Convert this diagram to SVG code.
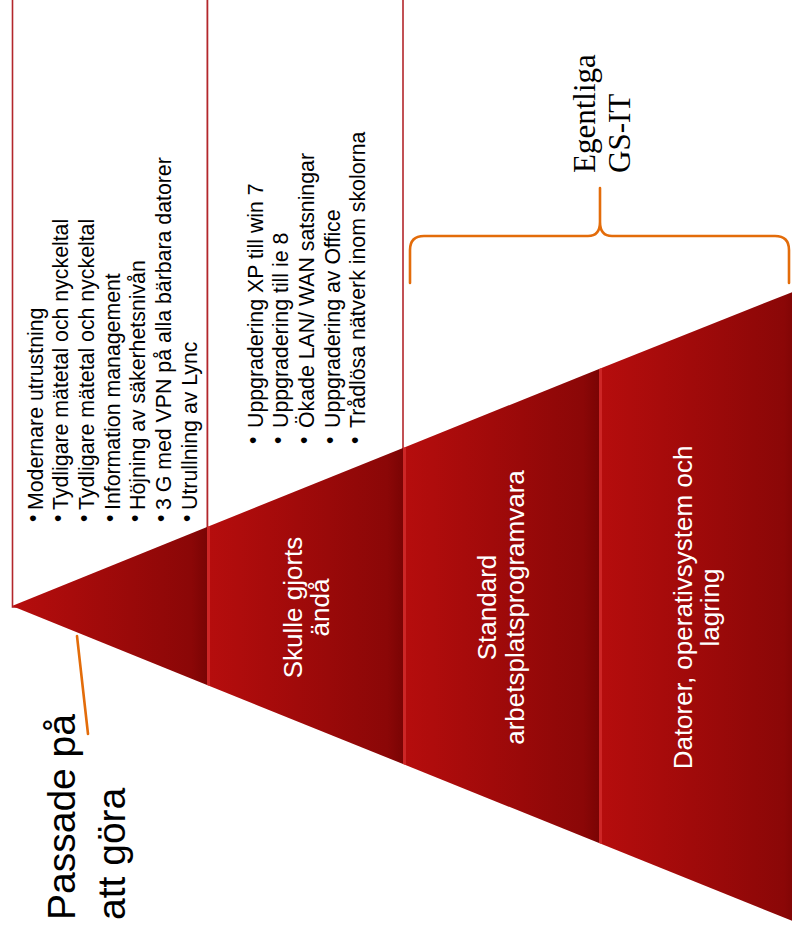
<svg xmlns="http://www.w3.org/2000/svg" width="792" height="932" viewBox="0 0 792 932">
  <defs>
    <linearGradient id="band" x1="0" y1="0" x2="1" y2="0">
      <stop offset="0" stop-color="#b60d0d"/>
      <stop offset="0.92" stop-color="#8b0707"/>
      <stop offset="1" stop-color="#7a0404"/>
    </linearGradient>
    <style>
      .box { fill: #ffffff; stroke: #b3262b; stroke-width: 1.6; }
      .band { fill: url(#band); }
      .edge { fill: #d12c2c; opacity: 0.85; }
      .bullet { font-family: "Liberation Sans", Arial, sans-serif; font-size: 21.3px; fill: #000000; }
      .label { font-family: "Liberation Sans", Arial, sans-serif; font-size: 26px; fill: #ffffff; text-anchor: middle; }
      .title { font-family: "Liberation Sans", Arial, sans-serif; font-size: 39px; fill: #000000; }
      .serif { font-family: "Liberation Serif", "Times New Roman", serif; font-size: 31px; fill: #000000; }
      .orange { fill: none; stroke: #e36c0a; stroke-width: 2.6; stroke-linecap: round; stroke-linejoin: round; }
    </style>
  </defs>

  <rect width="792" height="932" fill="#ffffff"/>

  <!-- outlined text panels above the pyramid -->
  <g id="panel-passed">
    <rect class="box" x="12.5" y="-10" width="195" height="617"/>
    <text class="bullet" transform="translate(39.5 522) rotate(-90)">•</text>
    <text class="bullet" transform="translate(42.5 510) rotate(-90)">Modernare utrustning</text>
    <text class="bullet" transform="translate(65.2 522) rotate(-90)">•</text>
    <text class="bullet" transform="translate(68.2 510) rotate(-90)">Tydligare mätetal och nyckeltal</text>
    <text class="bullet" transform="translate(90.8 522) rotate(-90)">•</text>
    <text class="bullet" transform="translate(93.8 510) rotate(-90)">Tydligare mätetal och nyckeltal</text>
    <text class="bullet" transform="translate(116.5 522) rotate(-90)">•</text>
    <text class="bullet" transform="translate(119.5 510) rotate(-90)">Information management</text>
    <text class="bullet" transform="translate(142.2 522) rotate(-90)">•</text>
    <text class="bullet" transform="translate(145.2 510) rotate(-90)">Höjning av säkerhetsnivån</text>
    <text class="bullet" transform="translate(167.8 522) rotate(-90)">•</text>
    <text class="bullet" transform="translate(170.8 510) rotate(-90)">3 G med VPN på alla bärbara datorer</text>
    <text class="bullet" transform="translate(193.5 522) rotate(-90)">•</text>
    <text class="bullet" transform="translate(196.5 510) rotate(-90)">Utrullning av Lync</text>
  </g>

  <g id="panel-done-anyway">
    <rect class="box" x="207.5" y="-10" width="195.5" height="620"/>
    <text class="bullet" transform="translate(259.7 444) rotate(-90)">•</text>
    <text class="bullet" transform="translate(262.7 428) rotate(-90)">Uppgradering XP till win 7</text>
    <text class="bullet" transform="translate(285.3 444) rotate(-90)">•</text>
    <text class="bullet" transform="translate(288.3 428) rotate(-90)">Uppgradering till ie 8</text>
    <text class="bullet" transform="translate(310.9 444) rotate(-90)">•</text>
    <text class="bullet" transform="translate(313.9 428) rotate(-90)">Ökade LAN/ WAN satsningar</text>
    <text class="bullet" transform="translate(336.5 444) rotate(-90)">•</text>
    <text class="bullet" transform="translate(339.5 428) rotate(-90)">Uppgradering av Office</text>
    <text class="bullet" transform="translate(362.1 444) rotate(-90)">•</text>
    <text class="bullet" transform="translate(365.1 428) rotate(-90)">Trådlösa nätverk inom skolorna</text>
  </g>

  <!-- pyramid bands, apex on the left -->
  <g id="band-1">
    <polygon class="band" points="12,606 207,527 207,685"/>
  </g>
  <g id="band-2">
    <polygon class="band" points="207,527 403,448 403,764 207,685"/>
    <polygon class="edge" points="207,527 210,526 210,686 207,685"/>
    <text class="label" transform="translate(301.5 607.5) rotate(-90)">Skulle gjorts</text>
    <text class="label" transform="translate(329 607.5) rotate(-90)">ändå</text>
  </g>
  <g id="band-3">
    <polygon class="band" points="403,448 599,369 599,843 403,764"/>
    <polygon class="edge" points="403,448 406,447 406,765 403,764"/>
    <text class="label" transform="translate(495.5 607.5) rotate(-90)">Standard</text>
    <text class="label" transform="translate(523.5 607.5) rotate(-90)">arbetsplatsprogramvara</text>
  </g>
  <g id="band-4">
    <polygon class="band" points="599,369 800,289 800,924 599,843"/>
    <polygon class="edge" points="599,369 602,368 602,844 599,843"/>
    <text class="label" transform="translate(691.5 607.5) rotate(-90)">Datorer, operativsystem och</text>
    <text class="label" transform="translate(718.5 607.5) rotate(-90)">lagring</text>
  </g>

  <!-- callouts -->
  <g id="connectors">
    <line class="orange" x1="77" y1="636" x2="88" y2="734"/>
    <path class="orange" d="M410,283 L410,250 Q410,236 424,236 L588,236 Q600,236 600,222 L600,188 M600,222 Q600,236 612,236 L775,236 Q789,236 789,250 L789,283"/>
  </g>

  <g id="title-passed">
    <text class="title" transform="translate(75 920) rotate(-90)">Passade på</text>
    <text class="title" transform="translate(125 920) rotate(-90)">att göra</text>
  </g>

  <g id="title-core">
    <text class="serif" transform="translate(595 173) rotate(-90)">Egentliga</text>
    <text class="serif" transform="translate(630 173) rotate(-90)">GS-IT</text>
  </g>
</svg>
